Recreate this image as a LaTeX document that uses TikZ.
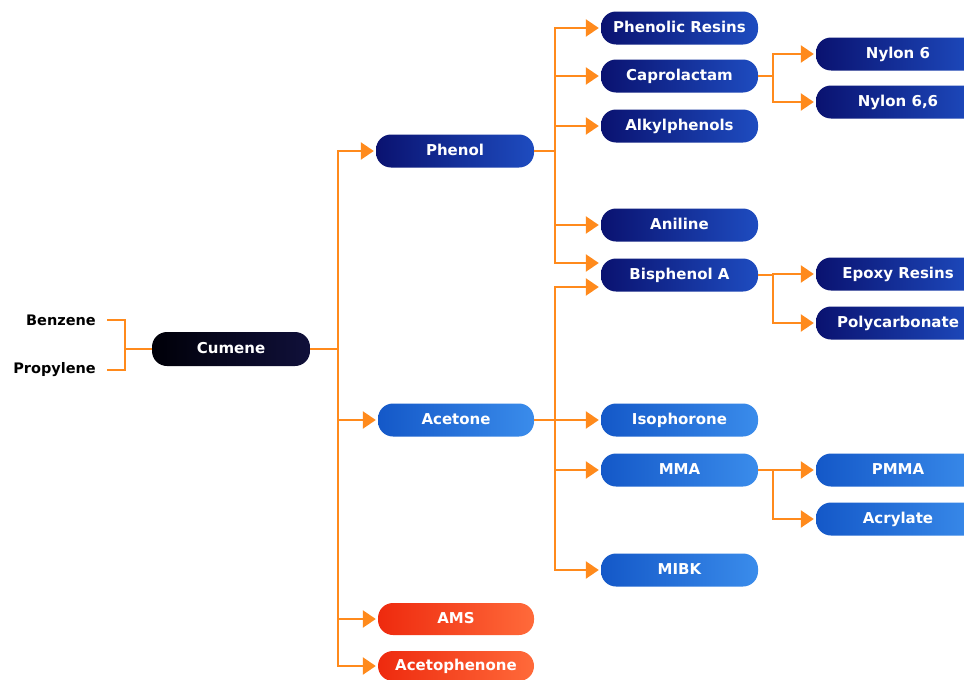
\documentclass[tikz,border=0pt]{standalone}
\usepackage{fontspec}
\setmainfont{DejaVu Sans}
\usetikzlibrary{arrows.meta}
\definecolor{orng}{HTML}{FF8A1C}
\definecolor{navyL}{HTML}{0A1270}
\definecolor{navyR}{HTML}{1E4CC0}
\definecolor{bluL}{HTML}{1458C8}
\definecolor{bluR}{HTML}{3A8CEB}
\definecolor{redL}{HTML}{EE2A0E}
\definecolor{redR}{HTML}{FF6A3A}
\definecolor{blkL}{HTML}{000008}
\definecolor{blkR}{HTML}{10103A}
\tikzset{
  pill/.style={rounded corners=15pt, minimum height=33pt, inner sep=0pt,
    text=white, font=\bfseries\fontsize{15}{17}\selectfont,
    text height=11pt, text depth=3pt},
  midw/.style={pill, minimum width=157pt},
  rightw/.style={pill, minimum width=164pt},
  navy/.style={left color=navyL, right color=navyR},
  blu/.style={left color=bluL, right color=bluR},
  rd/.style={left color=redL, right color=redR},
  blk/.style={left color=blkL, right color=blkR},
  ln/.style={draw=orng, line width=2.4pt},
  arr/.style={ln, -{Triangle[length=13pt,width=17pt]}, shorten >=2pt},
  lbl/.style={font=\bfseries\fontsize{14.5}{16}\selectfont, text=black, anchor=east, inner sep=0pt}
}
\begin{document}
\begin{tikzpicture}[x=1pt,y=-1pt]
\clip (0,0) rectangle (964,680);
\fill[white] (0,0) rectangle (964,680);
% left inputs
\node[lbl] (benz) at (96,320) {Benzene};
\node[lbl] (prop) at (96,370) {Propylene};
\node[pill, blk, minimum width=158pt, minimum height=34pt] (cumene) at (231,349) {Cumene};
% level 1
\node[pill, navy, minimum width=158pt] (phenol) at (455,151) {Phenol};
\node[pill, blu, minimum width=156pt] (acetone) at (456,420) {Acetone};
\node[pill, rd, minimum width=156pt, minimum height=32pt] (ams) at (456,619) {AMS};
\node[pill, rd, minimum width=156pt, minimum height=30pt] (aceto) at (456,666) {Acetophenone};
% level 2
\node[midw, navy] (phres) at (679.5,28) {Phenolic Resins};
\node[midw, navy] (capro) at (679.5,76) {Caprolactam};
\node[midw, navy] (alkyl) at (679.5,126) {Alkylphenols};
\node[midw, navy] (anil) at (679.5,225) {Aniline};
\node[midw, navy] (bisa) at (679.5,275) {Bisphenol A};
\node[midw, blu] (isoph) at (679.5,420) {Isophorone};
\node[midw, blu] (mma) at (679.5,470) {MMA};
\node[midw, blu] (mibk) at (679.5,570) {MIBK};
% level 3
\node[rightw, navy] (ny6) at (898,54) {Nylon 6};
\node[rightw, navy] (ny66) at (898,102) {Nylon 6,6};
\node[rightw, navy] (epoxy) at (898,274) {Epoxy Resins};
\node[rightw, navy] (polyc) at (898,323) {Polycarbonate};
\node[rightw, blu] (pmma) at (898,470) {PMMA};
\node[rightw, blu] (acryl) at (898,519) {Acrylate};
% joints
\coordinate (jb) at (125,349);
\coordinate (j1) at (338,349);
\coordinate (j2) at (555,151);
\coordinate (j3) at (555,420);
\coordinate (j4) at (773,76);
\coordinate (j5) at (773,275);
\coordinate (j6) at (773,470);
% connectors
\draw[ln] ([xshift=11pt]benz.east) -| (jb) |- ([xshift=11pt]prop.east);
\draw[ln] (jb) -- (cumene.west);
\draw[ln] (cumene.east) -- (j1);
\draw[arr] (j1) |- (phenol.west);
\draw[arr] (j1) |- (acetone.west);
\draw[arr] (j1) |- (ams.west);
\draw[arr] (j1) |- (aceto.west);
\draw[ln] (phenol.east) -- (j2);
\draw[arr] (j2) |- (phres.west);
\draw[arr] (j2) |- (capro.west);
\draw[arr] (j2) |- (alkyl.west);
\draw[arr] (j2) |- (anil.west);
\draw[arr] (j2) |- ([yshift=12pt]bisa.west);
\draw[ln] (acetone.east) -- (j3);
\draw[arr] (j3) |- ([yshift=-12pt]bisa.west);
\draw[arr] (j3) -- (isoph.west);
\draw[arr] (j3) |- (mma.west);
\draw[arr] (j3) |- (mibk.west);
\draw[ln] (capro.east) -- (j4);
\draw[arr] (j4) |- (ny6.west);
\draw[arr] (j4) |- (ny66.west);
\draw[ln] (bisa.east) -- (j5);
\draw[arr] (j5) |- (epoxy.west);
\draw[arr] (j5) |- (polyc.west);
\draw[ln] (mma.east) -- (j6);
\draw[arr] (j6) |- (pmma.west);
\draw[arr] (j6) |- (acryl.west);
\end{tikzpicture}
\end{document}
